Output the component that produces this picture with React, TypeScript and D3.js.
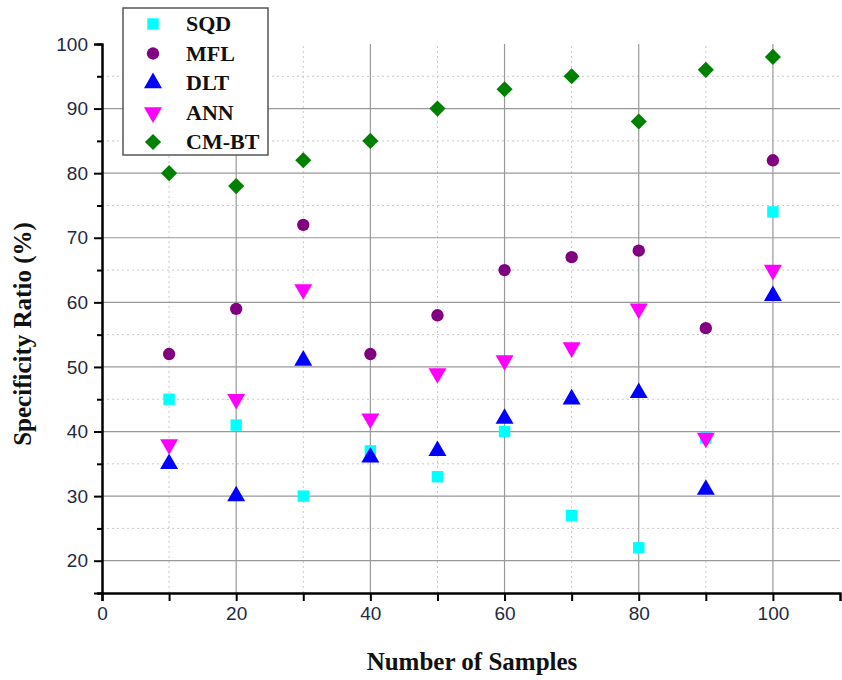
import React, { useEffect, useRef } from 'react';
import * as d3 from 'd3';

// sample counts on the x axis
const samples = [10, 20, 30, 40, 50, 60, 70, 80, 90, 100];

// specificity ratio (%) per method
const sqd = [45, 41, 30, 37, 33, 40, 27, 22, 39, 74];
const mfl = [52, 59, 72, 52, 58, 65, 67, 68, 56, 82];
const dlt = [35, 30, 51, 36, 37, 42, 45, 46, 31, 61];
const ann = [38, 45, 62, 42, 49, 51, 53, 59, 39, 65];
const cmbt = [80, 78, 82, 85, 90, 93, 95, 88, 96, 98];

const seriesNames = ['SQD', 'MFL', 'DLT', 'ANN', 'CM-BT'];
const seriesColors = ['#00ffff', '#800080', '#0000ff', '#ff00ff', '#008000'];

const xTicks = [0, 20, 40, 60, 80, 100];
const yTicks = [20, 30, 40, 50, 60, 70, 80, 90, 100];

export default function App() {
  const ref = useRef<SVGSVGElement>(null);

  useEffect(() => {
    const width = 842;
    const height = 680;
    const margin = { top: 44, right: 2, bottom: 87, left: 102 };

    const svg = d3.select(ref.current);
    svg.selectAll('*').remove();

    const x = d3.scaleLinear().domain([0, 110]).range([margin.left, width - margin.right]);
    const y = d3.scaleLinear().domain([15, 100]).range([height - margin.bottom, margin.top]);

    const bottom = y(15);
    const top = y(100);

    // minor grid (dotted)
    const minorX = d3.range(10, 110, 20);
    const minorY = d3.range(25, 100, 10);
    svg.append('g').selectAll('line').data(minorX).enter().append('line')
      .attr('x1', d => x(d)).attr('x2', d => x(d))
      .attr('y1', bottom).attr('y2', top)
      .attr('stroke', '#c8c8c8').attr('stroke-width', 1).attr('stroke-dasharray', '2,3');
    svg.append('g').selectAll('line').data(minorY).enter().append('line')
      .attr('x1', x(0)).attr('x2', x(110))
      .attr('y1', d => y(d)).attr('y2', d => y(d))
      .attr('stroke', '#c8c8c8').attr('stroke-width', 1).attr('stroke-dasharray', '2,3');

    // major grid
    svg.append('g').selectAll('line').data(xTicks.slice(1)).enter().append('line')
      .attr('x1', d => x(d)).attr('x2', d => x(d))
      .attr('y1', bottom).attr('y2', top)
      .attr('stroke', '#999').attr('stroke-width', 1.2);
    svg.append('g').selectAll('line').data(yTicks.slice(0, -1)).enter().append('line')
      .attr('x1', x(0)).attr('x2', x(110))
      .attr('y1', d => y(d)).attr('y2', d => y(d))
      .attr('stroke', '#999').attr('stroke-width', 1.2);

    // axes
    const xAxis = d3.axisBottom(x).tickValues(xTicks).tickSize(8).tickPadding(6);
    const xMinor = d3.axisBottom(x).tickValues(d3.range(10, 110, 20)).tickSize(8).tickFormat(() => '');
    const yAxis = d3.axisLeft(y).tickValues(yTicks).tickSize(8).tickPadding(6);
    const yMinor = d3.axisLeft(y).tickValues(d3.range(15, 100, 10)).tickSize(5).tickFormat(() => '');

    const gx = svg.append('g').attr('transform', `translate(0,${bottom})`).call(xAxis);
    svg.append('g').attr('transform', `translate(0,${bottom})`).call(xMinor);
    const gy = svg.append('g').attr('transform', `translate(${margin.left},0)`).call(yAxis);
    svg.append('g').attr('transform', `translate(${margin.left},0)`).call(yMinor);

    svg.selectAll('.domain').attr('stroke', '#000').attr('stroke-width', 2);
    svg.selectAll('.tick line').attr('stroke', '#000').attr('stroke-width', 2);
    [gx, gy].forEach(g => g.selectAll('text')
      .attr('font-family', 'Arial, Liberation Sans, sans-serif')
      .attr('font-size', 19)
      .attr('fill', '#1e2a40'));

    // markers (diamond = square turned 45 degrees)
    const symbols = [d3.symbolSquare, d3.symbolCircle, d3.symbolTriangle, d3.symbolTriangle, d3.symbolSquare];
    const sizes = [130, 120, 140, 140, 130];
    const rotations = [0, 0, 0, 180, 45];
    const allSeries = [sqd, mfl, dlt, ann, cmbt];

    allSeries.forEach((vals, i) => {
      const sym = d3.symbol().type(symbols[i]).size(sizes[i]);
      svg.append('g').selectAll('path').data(vals).enter().append('path')
        .attr('d', sym)
        .attr('transform', (d, j) => `translate(${x(samples[j])},${y(d)}) rotate(${rotations[i]})`)
        .attr('fill', seriesColors[i]);
    });

    // legend
    const legend = svg.append('g');
    legend.append('rect')
      .attr('x', 123).attr('y', 8).attr('width', 145).attr('height', 147)
      .attr('fill', '#fff').attr('stroke', '#555').attr('stroke-width', 1.5);
    seriesNames.forEach((name, i) => {
      const ly = 24 + i * 29.5;
      const sym = d3.symbol().type(symbols[i]).size(sizes[i]);
      legend.append('path')
        .attr('d', sym)
        .attr('transform', `translate(153,${ly}) rotate(${rotations[i]})`)
        .attr('fill', seriesColors[i]);
      legend.append('text')
        .attr('x', 186).attr('y', ly + 7)
        .attr('font-family', 'Liberation Serif, Times New Roman, serif')
        .attr('font-weight', 'bold')
        .attr('font-size', 22)
        .attr('fill', '#111')
        .text(name);
    });

    // axis titles
    svg.append('text')
      .attr('x', 472).attr('y', 670)
      .attr('text-anchor', 'middle')
      .attr('font-family', 'Liberation Serif, Times New Roman, serif')
      .attr('font-weight', 'bold')
      .attr('font-size', 25)
      .attr('fill', '#111')
      .text('Number of Samples');

    svg.append('text')
      .attr('transform', 'translate(31,334) rotate(-90)')
      .attr('text-anchor', 'middle')
      .attr('font-family', 'Liberation Serif, Times New Roman, serif')
      .attr('font-weight', 'bold')
      .attr('font-size', 25)
      .attr('fill', '#111')
      .text('Specificity Ratio (%)');
  }, []);

  return (
    <svg ref={ref} width={842} height={680}
      style={{ position: 'absolute', left: 0, top: 0, background: '#fff' }} />
  );
}
